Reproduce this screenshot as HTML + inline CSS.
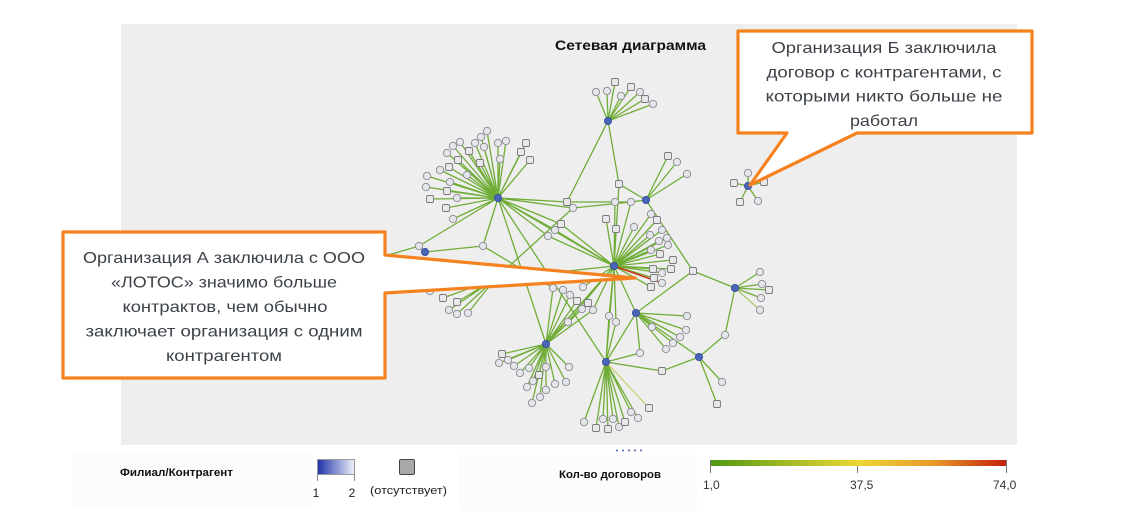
<!DOCTYPE html>
<html><head><meta charset="utf-8"><style>
html,body{margin:0;padding:0;background:#fff;}
svg{display:block;}
text{font-family:"Liberation Sans","DejaVu Sans",sans-serif;}
</style></head><body>
<svg width="1123" height="511" viewBox="0 0 1123 511" xmlns="http://www.w3.org/2000/svg">
<defs>
<linearGradient id="gb" x1="0" x2="1" y1="0" y2="0"><stop offset="0" stop-color="#1e32a8"/><stop offset="1" stop-color="#eef0fa"/></linearGradient>
<linearGradient id="gc" x1="0" x2="1" y1="0" y2="0"><stop offset="0" stop-color="#4f9a12"/><stop offset="0.5" stop-color="#ecd634"/><stop offset="0.75" stop-color="#e89a2a"/><stop offset="1" stop-color="#c4200c"/></linearGradient>
</defs>
<rect x="121" y="24" width="896" height="421" fill="#eeeeee"/>
<rect x="72" y="451" width="240" height="55" fill="#fcfcfc"/>
<rect x="458" y="455" width="239" height="56" fill="#fcfcfc"/>
<text x="630.5" y="50" font-size="14" font-weight="bold" fill="#111" text-anchor="middle" textLength="151" lengthAdjust="spacingAndGlyphs">Сетевая диаграмма</text>

<g stroke="#66a828" stroke-width="1.3" fill="none" opacity="0.92">
<path d="M608,121L596,92M608,121L607,91M608,121L615,82M608,121L621,96M608,121L631,87M608,121L640,92M608,121L645,99M608,121L653,104M608,121L619,184L646,200M608,121L567,202M573,208L495,279"/>
<path d="M498,198L487,131M498,198L481,137M498,198L475,143M498,198L460,142M498,198L453,146M498,198L447,153M498,198L469,151M498,198L458,160M498,198L480,163M498,198L484,147M498,198L498,143M498,198L506,141M498,198L526,143M498,198L521,152M498,198L530,160M498,198L500,159M498,198L449,167M498,198L440,170M498,198L427,176M498,198L467,175M498,198L450,182M498,198L426,187M498,198L447,191M498,198L430,199M498,198L457,198M498,198L446,208M498,198L453,219"/>
<path d="M498,198L419,246M498,198L483,246M498,198L567,202M498,198L561,224M498,198L555,230M498,198L548,236M498,198L614,266M498,198L546,344M498,198L606,362M498,198L573,208M567,202L615,202L631,202L646,200M573,208L631,202M561,224L614,266M555,230L614,266M548,236L614,266M419,246L425,252M483,246L425,252M419,246L385,256M483,246L553,288"/>
<path d="M614,266L606,219M614,266L616,229M614,266L634,227M614,266L651,214M614,266L657,220M614,266L662,230M614,266L650,235M614,266L667,238M614,266L659,241M614,266L668,245M614,266L651,250M614,266L660,254M614,266L673,260M614,266L671,269M614,266L653,269M614,266L662,273M614,266L654,278M614,266L651,287M614,266L619,184M614,266L615,202M614,266L631,202M614,266L606,362M614,266L609,316M614,266L616,322M614,266L636,313M614,266L546,344M614,266L540,350M614,266L583,287M614,266L593,310M614,266L568,322M614,266L495,279"/>
<path d="M546,344L502,354M546,344L499,363M546,344L508,360M546,344L514,366M546,344L520,373M546,344L529,368M546,344L539,375M546,344L533,381M546,344L527,387M546,344L546,367M546,344L555,384M546,344L546,390M546,344L540,397M546,344L532,403M546,344L569,367M546,344L566,382M546,344L553,288M546,344L563,290M546,344L570,295M546,344L577,301M546,344L582,309M546,344L588,303M546,344L593,310M546,344L568,322"/>
<path d="M606,362L584,422M606,362L596,428M606,362L603,419M606,362L608,429M606,362L613,419M606,362L619,427M606,362L625,422M606,362L631,412M606,362L638,418M606,362L640,353M606,362L662,371L699,357M606,362L609,316M606,362L616,322M606,362L636,313"/>
<path d="M636,313L687,316M636,313L686,330M636,313L680,337M636,313L673,343M636,313L666,349M636,313L652,327M636,313L640,353M636,313L693,271L735,288M693,271L646,200M636,313L699,357M735,288L760,272M735,288L762,284M735,288L769,290M735,288L761,298M735,288L725,335L699,357M699,357L722,382M699,357L717,404M646,200L668,156M646,200L677,162M646,200L687,174M748,186L748,173M748,186L734,183M748,186L764,182M748,186L740,202M748,186L758,201M495,279L430,291M495,279L443,298M495,279L457,302M495,279L449,310M495,279L457,314M495,279L468,313"/>
</g>
<path d="M614,266L662,283" stroke="#cc3318" stroke-width="1.5"/>
<path d="M606,362L649,408" stroke="#c9cf6a" stroke-width="1.2"/>
<path d="M735,288L760,310" stroke="#a9c86a" stroke-width="1.2"/>

<g fill="#e5e6ec" stroke="#8a8a90" stroke-width="0.9">
<circle cx="596" cy="92" r="3.7"/><circle cx="607" cy="91" r="3.7"/><circle cx="621" cy="96" r="3.7"/><circle cx="640" cy="92" r="3.7"/><circle cx="653" cy="104" r="3.7"/>
<circle cx="573" cy="208" r="3.7"/><circle cx="615" cy="202" r="3.7"/><circle cx="631" cy="202" r="3.7"/><circle cx="555" cy="230" r="3.7"/><circle cx="548" cy="236" r="3.7"/><circle cx="419" cy="246" r="3.7"/><circle cx="483" cy="246" r="3.7"/>
<circle cx="487" cy="131" r="3.7"/><circle cx="481" cy="137" r="3.7"/><circle cx="475" cy="143" r="3.7"/><circle cx="460" cy="142" r="3.7"/><circle cx="453" cy="146" r="3.7"/><circle cx="447" cy="153" r="3.7"/><circle cx="484" cy="147" r="3.7"/><circle cx="498" cy="143" r="3.7"/><circle cx="506" cy="141" r="3.7"/><circle cx="500" cy="159" r="3.7"/><circle cx="440" cy="170" r="3.7"/><circle cx="427" cy="176" r="3.7"/><circle cx="467" cy="175" r="3.7"/><circle cx="450" cy="182" r="3.7"/><circle cx="426" cy="187" r="3.7"/><circle cx="457" cy="198" r="3.7"/><circle cx="453" cy="219" r="3.7"/>
<circle cx="634" cy="227" r="3.7"/><circle cx="651" cy="214" r="3.7"/><circle cx="662" cy="230" r="3.7"/><circle cx="650" cy="235" r="3.7"/><circle cx="667" cy="238" r="3.7"/><circle cx="659" cy="241" r="3.7"/><circle cx="668" cy="245" r="3.7"/><circle cx="651" cy="250" r="3.7"/><circle cx="662" cy="273" r="3.7"/><circle cx="662" cy="283" r="3.7"/>
<circle cx="553" cy="288" r="3.7"/><circle cx="563" cy="290" r="3.7"/><circle cx="570" cy="295" r="3.7"/><circle cx="583" cy="287" r="3.7"/><circle cx="582" cy="309" r="3.7"/><circle cx="593" cy="310" r="3.7"/><circle cx="568" cy="322" r="3.7"/><circle cx="609" cy="316" r="3.7"/><circle cx="616" cy="322" r="3.7"/>
<circle cx="499" cy="363" r="3.7"/><circle cx="508" cy="360" r="3.7"/><circle cx="514" cy="366" r="3.7"/><circle cx="520" cy="373" r="3.7"/><circle cx="529" cy="368" r="3.7"/><circle cx="533" cy="381" r="3.7"/><circle cx="527" cy="387" r="3.7"/><circle cx="546" cy="367" r="3.7"/><circle cx="555" cy="384" r="3.7"/><circle cx="546" cy="390" r="3.7"/><circle cx="540" cy="397" r="3.7"/><circle cx="532" cy="403" r="3.7"/><circle cx="569" cy="367" r="3.7"/><circle cx="566" cy="382" r="3.7"/>
<circle cx="584" cy="422" r="3.7"/><circle cx="603" cy="419" r="3.7"/><circle cx="613" cy="419" r="3.7"/><circle cx="619" cy="427" r="3.7"/><circle cx="631" cy="412" r="3.7"/><circle cx="638" cy="418" r="3.7"/><circle cx="640" cy="353" r="3.7"/>
<circle cx="687" cy="316" r="3.7"/><circle cx="686" cy="330" r="3.7"/><circle cx="680" cy="337" r="3.7"/><circle cx="673" cy="343" r="3.7"/><circle cx="666" cy="349" r="3.7"/><circle cx="652" cy="327" r="3.7"/>
<circle cx="760" cy="272" r="3.7"/><circle cx="762" cy="284" r="3.7"/><circle cx="761" cy="298" r="3.7"/><circle cx="760" cy="310" r="3.7"/><circle cx="725" cy="335" r="3.7"/><circle cx="722" cy="382" r="3.7"/>
<circle cx="677" cy="162" r="3.7"/><circle cx="687" cy="174" r="3.7"/><circle cx="748" cy="173" r="3.7"/><circle cx="758" cy="201" r="3.7"/>
<circle cx="430" cy="291" r="3.7"/><circle cx="449" cy="310" r="3.7"/><circle cx="457" cy="314" r="3.7"/><circle cx="468" cy="313" r="3.7"/>
</g>
<g fill="#e8e8ea" stroke="#7a7a7e" stroke-width="0.9">
<rect x="611.5" y="78.5" width="7" height="7" rx="1.5"/><rect x="627.5" y="83.5" width="7" height="7" rx="1.5"/><rect x="641.5" y="95.5" width="7" height="7" rx="1.5"/>
<rect x="615.5" y="180.5" width="7" height="7" rx="1.5"/><rect x="563.5" y="198.5" width="7" height="7" rx="1.5"/><rect x="557.5" y="220.5" width="7" height="7" rx="1.5"/>
<rect x="465.5" y="147.5" width="7" height="7" rx="1.5"/><rect x="454.5" y="156.5" width="7" height="7" rx="1.5"/><rect x="476.5" y="159.5" width="7" height="7" rx="1.5"/><rect x="522.5" y="139.5" width="7" height="7" rx="1.5"/><rect x="517.5" y="148.5" width="7" height="7" rx="1.5"/><rect x="526.5" y="156.5" width="7" height="7" rx="1.5"/><rect x="445.5" y="163.5" width="7" height="7" rx="1.5"/><rect x="443.5" y="187.5" width="7" height="7" rx="1.5"/><rect x="426.5" y="195.5" width="7" height="7" rx="1.5"/><rect x="442.5" y="204.5" width="7" height="7" rx="1.5"/>
<rect x="602.5" y="215.5" width="7" height="7" rx="1.5"/><rect x="612.5" y="225.5" width="7" height="7" rx="1.5"/><rect x="653.5" y="216.5" width="7" height="7" rx="1.5"/><rect x="656.5" y="250.5" width="7" height="7" rx="1.5"/><rect x="669.5" y="256.5" width="7" height="7" rx="1.5"/><rect x="667.5" y="265.5" width="7" height="7" rx="1.5"/><rect x="649.5" y="265.5" width="7" height="7" rx="1.5"/><rect x="650.5" y="274.5" width="7" height="7" rx="1.5"/><rect x="647.5" y="283.5" width="7" height="7" rx="1.5"/><rect x="689.5" y="267.5" width="7" height="7" rx="1.5"/>
<rect x="573.5" y="297.5" width="7" height="7" rx="1.5"/><rect x="584.5" y="299.5" width="7" height="7" rx="1.5"/><rect x="498.5" y="350.5" width="7" height="7" rx="1.5"/><rect x="535.5" y="371.5" width="7" height="7" rx="1.5"/>
<rect x="592.5" y="424.5" width="7" height="7" rx="1.5"/><rect x="604.5" y="425.5" width="7" height="7" rx="1.5"/><rect x="621.5" y="418.5" width="7" height="7" rx="1.5"/><rect x="645.5" y="404.5" width="7" height="7" rx="1.5"/><rect x="658.5" y="367.5" width="7" height="7" rx="1.5"/>
<rect x="765.5" y="286.5" width="7" height="7" rx="1.5"/><rect x="713.5" y="400.5" width="7" height="7" rx="1.5"/><rect x="664.5" y="152.5" width="7" height="7" rx="1.5"/>
<rect x="730.5" y="179.5" width="7" height="7" rx="1.5"/><rect x="760.5" y="178.5" width="7" height="7" rx="1.5"/><rect x="736.5" y="198.5" width="7" height="7" rx="1.5"/>
<rect x="439.5" y="294.5" width="7" height="7" rx="1.5"/><rect x="453.5" y="298.5" width="7" height="7" rx="1.5"/>
</g>
<g fill="#4a64b8" stroke="#34489a" stroke-width="0.8">
<circle cx="608" cy="121" r="3.6"/><circle cx="498" cy="198" r="3.6"/><circle cx="614" cy="266" r="3.6"/><circle cx="646" cy="200" r="3.6"/><circle cx="425" cy="252" r="3.6"/><circle cx="735" cy="288" r="3.6"/><circle cx="748" cy="186" r="3.6"/><circle cx="636" cy="313" r="3.6"/><circle cx="606" cy="362" r="3.6"/><circle cx="546" cy="344" r="3.6"/><circle cx="699" cy="357" r="3.6"/><circle cx="495" cy="279" r="3.6"/>
</g>

<!-- Callout A -->
<path d="M63,232H385V255L635,278L385,293V378H63Z" fill="#fff" stroke="#f5821f" stroke-width="3.2" stroke-linejoin="round"/>
<g font-size="16" fill="#3c4248" text-anchor="middle">
<text x="224" y="263" textLength="282" lengthAdjust="spacingAndGlyphs">Организация А заключила с ООО</text>
<text x="224" y="287.5" textLength="226" lengthAdjust="spacingAndGlyphs">«ЛОТОС» значимо больше</text>
<text x="225" y="312" textLength="205" lengthAdjust="spacingAndGlyphs">контрактов, чем обычно</text>
<text x="224" y="336.5" textLength="277" lengthAdjust="spacingAndGlyphs">заключает организация с одним</text>
<text x="224" y="361" textLength="116" lengthAdjust="spacingAndGlyphs">контрагентом</text>
</g>
<!-- Callout B -->
<path d="M738,31H1032V133H857L750,185L787,133H738Z" fill="#fff" stroke="#f5821f" stroke-width="3.2" stroke-linejoin="round"/>
<g font-size="16" fill="#3c4248" text-anchor="middle">
<text x="884" y="53" textLength="225" lengthAdjust="spacingAndGlyphs">Организация Б заключила</text>
<text x="884" y="77.5" textLength="235" lengthAdjust="spacingAndGlyphs">договор с контрагентами, с</text>
<text x="884" y="101.5" textLength="237" lengthAdjust="spacingAndGlyphs">которыми никто больше не</text>
<text x="884" y="126" textLength="68" lengthAdjust="spacingAndGlyphs">работал</text>
</g>

<!-- legend -->
<g fill="#4a64b0"><circle cx="617" cy="450.5" r="1"/><circle cx="623" cy="450.5" r="1"/><circle cx="629" cy="450.5" r="1"/><circle cx="635" cy="450.5" r="1"/><circle cx="641" cy="450.5" r="1"/></g>
<text x="120" y="476" font-size="11" font-weight="bold" fill="#111" textLength="113" lengthAdjust="spacingAndGlyphs">Филиал/Контрагент</text>
<rect x="317.5" y="459.5" width="37" height="15" fill="url(#gb)" stroke="#999" stroke-width="1"/>
<path d="M317.5,474V481M354.5,474V481" stroke="#888" stroke-width="1"/>
<text x="316" y="497" font-size="12" fill="#222" text-anchor="middle">1</text>
<text x="352" y="497" font-size="12" fill="#222" text-anchor="middle">2</text>
<rect x="399.5" y="459.5" width="15" height="15" rx="1.5" fill="#a9a9a9" stroke="#444" stroke-width="1"/>
<text x="370" y="494" font-size="11" fill="#222" textLength="77" lengthAdjust="spacingAndGlyphs">(отсутствует)</text>
<text x="559" y="478" font-size="11" font-weight="bold" fill="#111" textLength="102" lengthAdjust="spacingAndGlyphs">Кол-во договоров</text>
<rect x="710" y="460" width="297" height="6" fill="url(#gc)"/>
<path d="M710.5,460V473M857.5,466V473M1006.5,460V473" stroke="#777" stroke-width="1"/>
<text x="703" y="489" font-size="12" fill="#333">1,0</text>
<text x="850" y="489" font-size="12" fill="#333">37,5</text>
<text x="993" y="489" font-size="12" fill="#333">74,0</text>
</svg>
</body></html>
